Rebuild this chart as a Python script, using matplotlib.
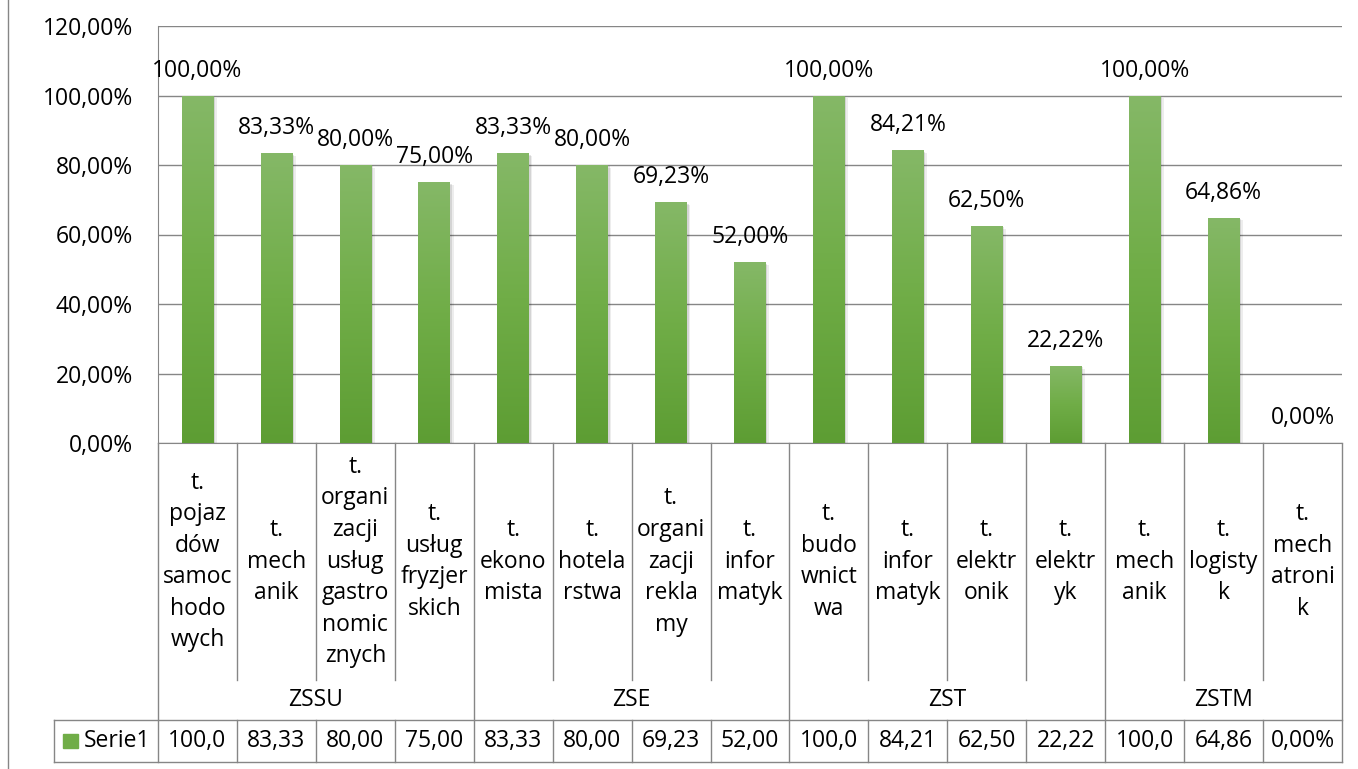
import numpy as np
import matplotlib
matplotlib.use("Agg")
import matplotlib.pyplot as plt
import matplotlib.patheffects as pe
from matplotlib.colors import LinearSegmentedColormap
from matplotlib.patches import Rectangle
from matplotlib.lines import Line2D

plt.rcParams['font.family'] = ['Open Sans', 'DejaVu Sans']
FS = 16.5

categories = ["t.\npojaz\ndów\nsamoc\nhodo\nwych", "t.\nmech\nanik",
              "t.\norgani\nzacji\nusług\ngastro\nnomic\nznych",
              "t.\nusług\nfryzjer\nskich", "t.\nekono\nmista", "t.\nhotela\nrstwa",
              "t.\norgani\nzacji\nrekla\nmy", "t.\ninfor\nmatyk",
              "t.\nbudo\nwnict\nwa", "t.\ninfor\nmatyk", "t.\nelektr\nonik",
              "t.\nelektr\nyk", "t.\nmech\nanik", "t.\nlogisty\nk",
              "t.\nmech\natroni\nk"]
values = [100.0, 83.33, 80.0, 75.0, 83.33, 80.0, 69.23, 52.0,
          100.0, 84.21, 62.5, 22.22, 100.0, 64.86, 0.0]
groups = ["ZSSU", "ZSE", "ZST", "ZSTM"]
group_sizes = [4, 4, 4, 3]
series_name = "Serie1"


def pct(v):
    return f"{v:.2f}%".replace('.', ',')


W, H = 1358, 769
fig = plt.figure(figsize=(W / 100, H / 100), dpi=100)
line_col = '#868686'

# main plot area
ax = fig.add_axes([158 / W, 1 - 443 / H, (1342 - 158) / W, (443 - 26) / H])
x = np.arange(len(values))
bars = ax.bar(x, values, width=0.4, color='#70ad47', zorder=3,
              path_effects=[pe.SimplePatchShadow(offset=(2.5, -2), shadow_rgbFace='#000000', alpha=0.07),
                            pe.SimplePatchShadow(offset=(1.2, -1), shadow_rgbFace='#000000', alpha=0.1),
                            pe.Normal()])

cmap = LinearSegmentedColormap.from_list('g', ['#5d9d33', '#70ad47', '#85b867'])
grad = np.linspace(0, 1, 256).reshape(-1, 1)
for b in bars:
    if b.get_height() <= 0:
        continue
    im = ax.imshow(grad, cmap=cmap, origin='lower', aspect='auto', zorder=3.5,
                   extent=[b.get_x(), b.get_x() + b.get_width(), 0, b.get_height()])
    im.set_clip_path(b)

for xi, v in zip(x, values):
    ax.annotate(pct(v), (xi, v), xytext=(0, 18), textcoords='offset points',
                ha='center', va='center', fontsize=FS, zorder=5)

ax.set_xlim(-0.5, len(values) - 0.5)
ax.set_ylim(0, 120)
yt = np.arange(0, 121, 20)
ax.set_yticks(yt)
ax.set_yticklabels([pct(t) for t in yt], fontsize=FS)
ax.set_xticks([])
ax.tick_params(axis='y', length=0, pad=18)
ax.yaxis.grid(True, color=line_col, lw=1)
ax.set_axisbelow(True)
for s in ['top', 'right']:
    ax.spines[s].set_visible(False)
ax.spines['left'].set_color(line_col)
ax.spines['bottom'].set_color(line_col)

# category table below
unit = (1342 - 158) / len(values)
xleft = -0.5 - (158 - 54) / unit
tax = fig.add_axes([54 / W, 1 - 762 / H, (1342 - 54) / W, (762 - 443) / H])
tax.set_xlim(xleft, len(values) - 0.5)
tax.set_ylim(762, 443)
tax.axis('off')

bounds = np.cumsum([0] + group_sizes) - 0.5
for i in range(len(values) + 1):
    bx = i - 0.5
    if bx in bounds:
        tax.plot([bx, bx], [443, 762], color=line_col, lw=1, clip_on=False)
    else:
        tax.plot([bx, bx], [443, 680], color=line_col, lw=1, clip_on=False)
        tax.plot([bx, bx], [720, 762], color=line_col, lw=1, clip_on=False)
tax.plot([xleft, len(values) - 0.5], [720, 720], color=line_col, lw=1, clip_on=False)
tax.plot([xleft, len(values) - 0.5], [762, 762], color=line_col, lw=1, clip_on=False)
tax.plot([xleft, xleft], [720, 762], color=line_col, lw=1, clip_on=False)

for xi, lab in zip(x, categories):
    tax.text(xi, 561.5, lab, ha='center', va='center', fontsize=FS, linespacing=1.42)
for g, a, b in zip(groups, bounds[:-1], bounds[1:]):
    tax.text((a + b) / 2, 700, g, ha='center', va='center', fontsize=FS)
for xi, v in zip(x, values):
    tax.text(xi, 741, pct(v)[:5], ha='center', va='center', fontsize=FS)

# legend key in data table
fig.patches.append(Rectangle((63 / W, 1 - 748 / H), 15 / W, 14 / H,
                             transform=fig.transFigure, color='#70ad47'))
fig.text(84 / W, 1 - 741 / H, series_name, ha='left', va='center', fontsize=FS)

# chart area border
fig.lines.append(Line2D([8 / W, 8 / W], [0, 1], transform=fig.transFigure, color=line_col, lw=1))

fig.savefig('out.png', dpi=100)
